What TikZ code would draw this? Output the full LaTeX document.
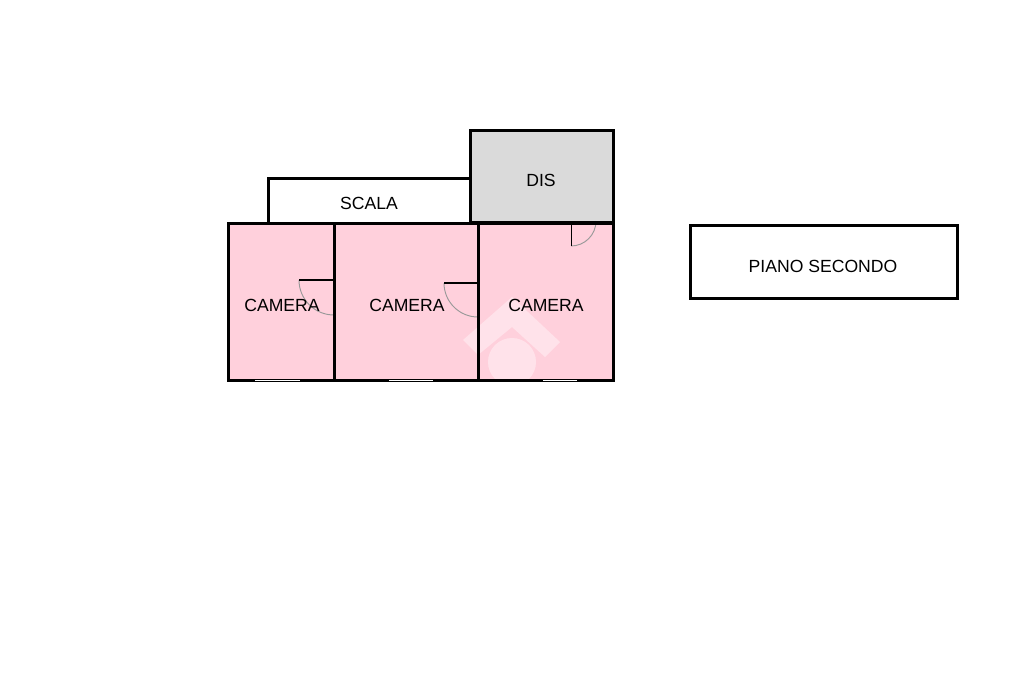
\documentclass[tikz,border=0pt]{standalone}
\usepackage{fontspec}
\setmainfont{Liberation Sans}
\definecolor{roompink}{RGB}{255,208,220}
\definecolor{roomgray}{RGB}{218,218,218}
\tikzset{
 wall/.style={line width=2.25pt,line join=miter},
 doorleaf/.style={line width=1.5pt},
 doorswing/.style={line width=0.7pt,gray!80},
 windowgap/.style={line width=0.7pt,white},
 roomlabel/.style={font=\fontsize{13.2pt}{16pt}\selectfont,inner sep=0pt,text=black}
}
\begin{document}
\begin{tikzpicture}[x=0.75pt,y=-0.75pt]
 \useasboundingbox (0,0) rectangle (1024,682);
 \fill[roompink](229,223) rectangle (613,380);
 \fill[roomgray](471,130) rectangle (613,222);
 \fill[white,opacity=0.4](512,297)--(560,342)--(545,357)--(512,327)--(478,355)--(463,340)--cycle;
 \begin{scope}
  \clip (480,330) rectangle (545,382);
  \fill[white,opacity=0.4](512,362) circle [radius=24];
 \end{scope}
 \draw[doorswing](299,280) arc [start angle=180,end angle=90,radius=35];
 \draw[doorswing](444,283) arc [start angle=180,end angle=90,radius=34];
 \draw[doorswing](571,246) arc [start angle=90,end angle=0,radius=25];
 \draw[doorleaf](299,280)--(334,280);
 \draw[doorleaf](444,283)--(478,283);
 \draw[line width=0.7pt](571,223)--(571,246);
 \draw[wall](228.5,223) rectangle (613,380.5);
 \draw[wall](334,223)--(334,380);
 \draw[wall](478,223)--(478,380);
 \draw[wall](268,222)--(268,178)--(470.5,178);
 \draw[wall](470.5,130) rectangle (613,222);
 \draw[wall](690,225) rectangle (957,298);
 \draw[windowgap](255,380.5)--(300,380.5);
 \draw[windowgap](389,380.5)--(433,380.5);
 \draw[windowgap](543,380.5)--(577,380.5);
 \node[roomlabel] (camera1) at (282,305.5) {CAMERA};
 \node[roomlabel] (camera2) at (407,305.5) {CAMERA};
 \node[roomlabel] (camera3) at (546,305.5) {CAMERA};
 \node[roomlabel] (scala) at (369,203.5) {SCALA};
 \node[roomlabel] (dis) at (541,180.5) {DIS};
 \node[roomlabel] (piano) at (823,266.5) {PIANO SECONDO};
\end{tikzpicture}
\end{document}
